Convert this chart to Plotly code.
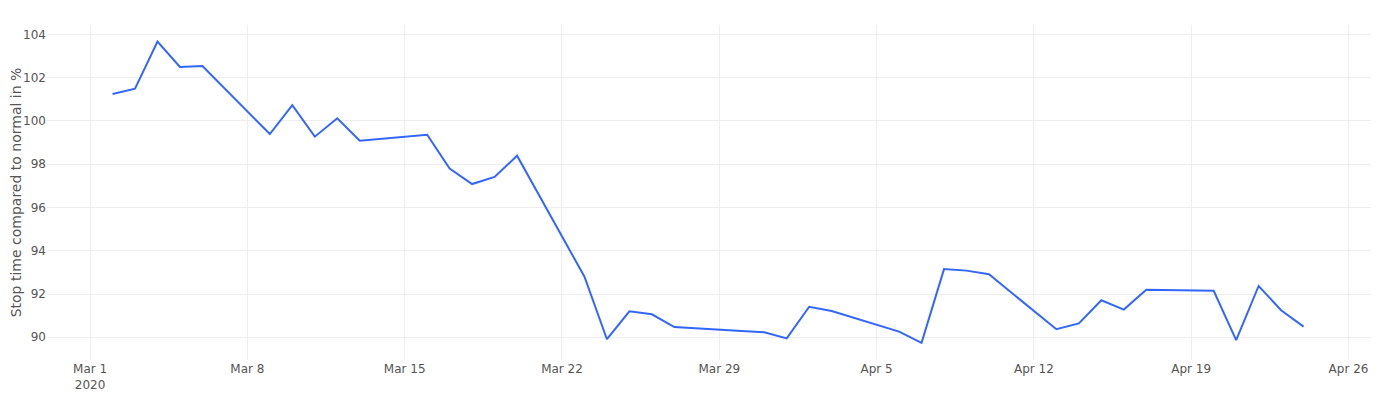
import plotly.graph_objects as go

dates = [
    "2020-03-02", "2020-03-03", "2020-03-04", "2020-03-05", "2020-03-06",
    "2020-03-09", "2020-03-10", "2020-03-11", "2020-03-12", "2020-03-13",
    "2020-03-16", "2020-03-17", "2020-03-18", "2020-03-19", "2020-03-20",
    "2020-03-23", "2020-03-24", "2020-03-25", "2020-03-26", "2020-03-27",
    "2020-03-30", "2020-03-31", "2020-04-01", "2020-04-02", "2020-04-03",
    "2020-04-06", "2020-04-07", "2020-04-08", "2020-04-09", "2020-04-10",
    "2020-04-13", "2020-04-14", "2020-04-15", "2020-04-16", "2020-04-17",
    "2020-04-20", "2020-04-21", "2020-04-22", "2020-04-23", "2020-04-24",
]
stop_time = [
    101.24, 101.49, 103.66, 102.49, 102.53,
    99.39, 100.73, 99.27, 100.12, 99.08,
    99.36, 97.80, 97.08, 97.41, 98.39,
    92.80, 89.91, 91.20, 91.06, 90.47,
    90.29, 90.23, 89.95, 91.41, 91.21,
    90.26, 89.74, 93.15, 93.08, 92.91,
    90.37, 90.64, 91.71, 91.28, 92.20,
    92.15, 89.87, 92.37, 91.25, 90.49,
]
y_title = "Stop time compared to normal in %"

fig = go.Figure(
    go.Scatter(
        x=dates, y=stop_time, mode="lines",
        line=dict(color="#3366FF", width=2),
    )
)
fig.update_layout(
    width=1381, height=400,
    margin=dict(l=39, r=18, t=17, b=48, autoexpand=False),
    paper_bgcolor="white", plot_bgcolor="white",
    font=dict(family="DejaVu Sans, Verdana, sans-serif", color="#555", size=12),
    showlegend=False,
)
fig.update_xaxes(
    range=["2020-02-28 02:00", "2020-04-27 00:00"],
    showgrid=True, gridcolor="#eeeeee", zeroline=False, automargin=False,
    showline=False, ticks="", dtick=7 * 24 * 3600 * 1000, tick0="2020-03-01",
)
fig.update_yaxes(
    range=[88.95, 104.43],
    showgrid=True, gridcolor="#eeeeee", zeroline=False, automargin=True,
    showline=False, ticks="", dtick=2,
    title=dict(text=y_title, font=dict(size=14, color="#555"), standoff=14),
)
fig.write_html("out.html")
